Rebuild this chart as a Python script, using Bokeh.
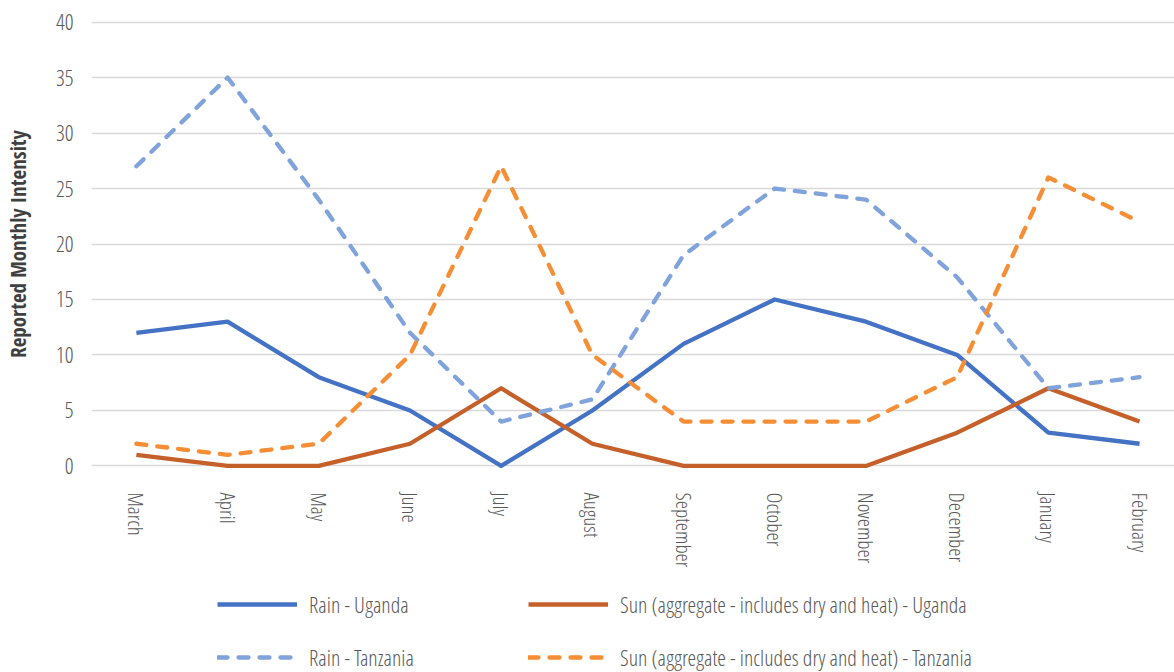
from bokeh.plotting import figure
from bokeh.layouts import column
from bokeh.models import Range1d, FixedTicker, Legend, LegendItem
from bokeh.embed import file_html
from bokeh.resources import INLINE

months = ["March", "April", "May", "June", "July", "August", "September",
          "October", "November", "December", "January", "February"]
rain_uganda = [12, 13, 8, 5, 0, 5, 11, 15, 13, 10, 3, 2]
sun_uganda = [1, 0, 0, 2, 7, 2, 0, 0, 0, 3, 7, 4]
rain_tanzania = [27, 35, 24, 12, 4, 6, 19, 25, 24, 17, 7, 8]
sun_tanzania = [2, 1, 2, 10, 27, 10, 4, 4, 4, 8, 26, 22]
y_ticks = [0, 5, 10, 15, 20, 25, 30, 35, 40]
series_labels = ["Rain - Uganda", "Sun (aggregate - includes dry and heat) - Uganda",
                 "Rain - Tanzania", "Sun (aggregate - includes dry and heat) - Tanzania"]

FONT = "Open Sans Condensed Light"
FONT_BOLD = "Open Sans Condensed"
xs = list(range(len(months)))
series = [rain_uganda, sun_uganda, rain_tanzania, sun_tanzania]

styles = [
    dict(line_color="#4472C4", line_width=4.3, line_join="round"),
    dict(line_color="#C5602A", line_width=4.3, line_join="round"),
    dict(line_color="#7FA3DA", line_width=4.3, line_dash="10 11", line_cap="round", line_join="round"),
    dict(line_color="#F58E35", line_width=4.3, line_dash="10 11", line_cap="round", line_join="round"),
]

p = figure(width=1174, height=577, output_backend="svg", toolbar_location=None,
           x_range=Range1d(-0.492, 11.383), y_range=Range1d(-0.5, 40.5),
           min_border_left=88, min_border_right=0, min_border_top=16,
           min_border_bottom=106)
p.outline_line_color = None

for ys, st in zip(series, styles):
    p.line(xs, ys, **st)

# y axis
p.yaxis.ticker = FixedTicker(ticks=y_ticks)
p.yaxis.axis_line_color = None
p.yaxis.major_tick_line_color = None
p.yaxis.minor_tick_line_color = None
p.yaxis.major_label_text_font = FONT
p.yaxis.major_label_text_font_size = "22px"
p.yaxis.major_label_text_color = "#595959"
p.yaxis.major_label_standoff = 12
p.yaxis.axis_label = "Reported Monthly Intensity"
p.yaxis.axis_label_text_font = FONT_BOLD
p.yaxis.axis_label_text_font_style = "bold"
p.yaxis.axis_label_text_font_size = "21px"
p.yaxis.axis_label_text_color = "#404040"
p.yaxis.axis_label_standoff = 21

# x axis
p.xaxis.ticker = FixedTicker(ticks=xs)
p.xaxis.major_label_overrides = {i: m for i, m in enumerate(months)}
p.xaxis.major_label_orientation = "vertical"
p.xaxis.axis_line_color = None
p.xaxis.major_tick_line_color = None
p.xaxis.minor_tick_line_color = None
p.xaxis.major_label_text_font = FONT
p.xaxis.major_label_text_font_size = "21px"
p.xaxis.major_label_text_color = "#595959"
p.xaxis.major_label_standoff = 15

p.xgrid.grid_line_color = None
p.ygrid.ticker = FixedTicker(ticks=y_ticks)
p.ygrid.grid_line_color = "#D9D9D9"
p.ygrid.grid_line_width = 1.5

# legend in its own strip below the chart (series drawn far outside its view)
p2 = figure(width=1174, height=95, output_backend="svg", toolbar_location=None,
            x_range=Range1d(0, 1), y_range=Range1d(1000, 1001),
            x_axis_type=None, y_axis_type=None,
            min_border=0, min_border_left=0, min_border_right=0,
            min_border_top=0, min_border_bottom=0)
p2.outline_line_color = None
p2.grid.visible = False
proxies = [p2.line(xs, ys, **st) for ys, st in zip(series, styles)]
order = [0, 2, 1, 3]
legend = Legend(items=[LegendItem(label=series_labels[i], renderers=[proxies[i]]) for i in order],
                orientation="vertical", ncols=2, location=(126, 0),
                glyph_width=80, glyph_height=26, label_height=26, label_width=196,
                label_standoff=12, spacing=23, padding=0, margin=0,
                label_text_font=FONT, label_text_font_size="22px", label_text_color="#595959",
                background_fill_alpha=0, border_line_color=None)
p2.add_layout(legend, "center")

open("out.html", "w").write(file_html(column(p, p2, spacing=0), INLINE))
